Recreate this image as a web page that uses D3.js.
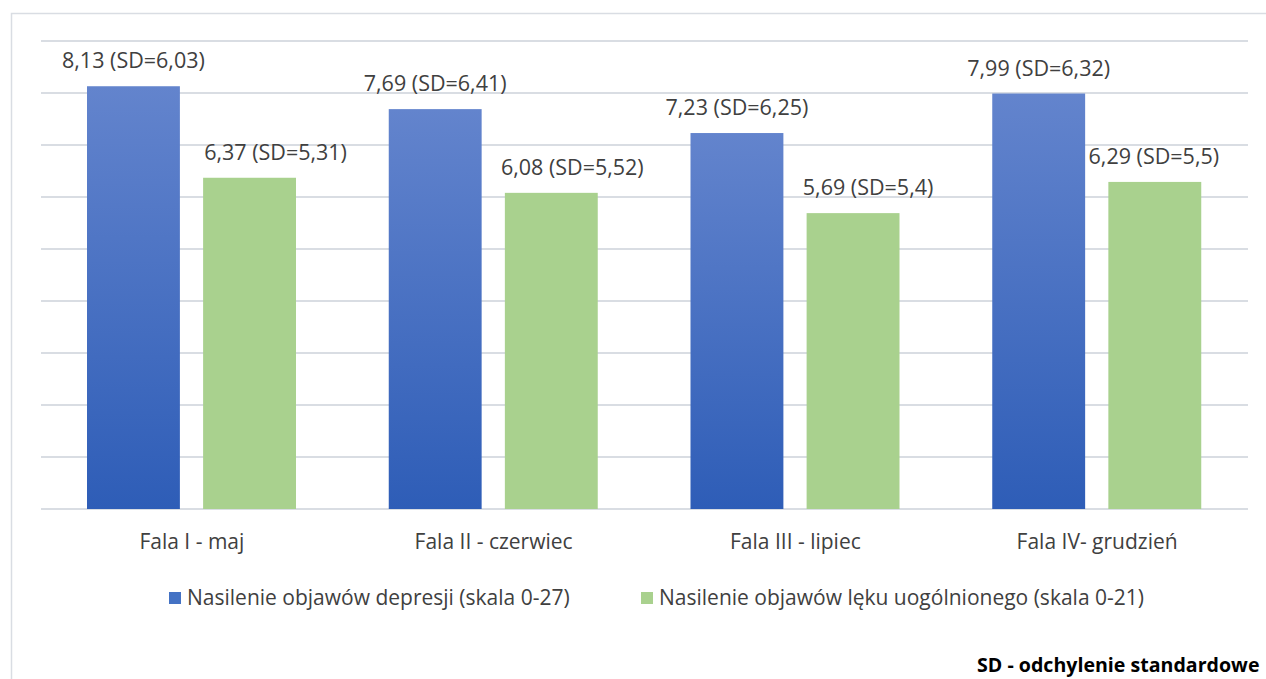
<!DOCTYPE html>
<html>
<head>
<meta charset="utf-8">
<script src="https://cdn.jsdelivr.net/npm/d3@7"></script>
<style>
  html, body { margin: 0; padding: 0; background: #fff; overflow: hidden; }
  svg { display: block; font-family: "Open Sans", Lato, sans-serif; }
</style>
</head>
<body>
<svg id="chart" width="1266" height="679"></svg>
<script>
// Survey waves
const categories = ["Fala I - maj", "Fala II - czerwiec", "Fala III - lipiec", "Fala IV- grudzień"];
// Mean severity of depression symptoms (PHQ-9, 0-27) and standard deviations
const depression = [8.13, 7.69, 7.23, 7.99];
const depressionSD = [6.03, 6.41, 6.25, 6.32];
// Mean severity of generalized anxiety symptoms (GAD-7, 0-21) and standard deviations
const anxiety = [6.37, 6.08, 5.69, 6.29];
const anxietySD = [5.31, 5.52, 5.4, 5.5];
const seriesNames = ["Nasilenie objawów depresji (skala 0-27)", "Nasilenie objawów lęku uogólnionego (skala 0-21)"];
const yTicks = [0, 1, 2, 3, 4, 5, 6, 7, 8, 9];

// layout: horizontal nudges of the value labels (px), per series and wave
const labelNudge = [[0, 0, 0, 0], [26, 21, 15, -1]];

const fmt = v => String(v).replace(".", ",");

const svg = d3.select("#chart");

// outer chart frame
svg.append("rect")
  .attr("x", 11.5).attr("y", 13.5)
  .attr("width", 1300).attr("height", 700)
  .attr("fill", "#fff").attr("stroke", "#d9dde3").attr("stroke-width", 1.5);

const plot = { left: 41, right: 1248, top: 41, bottom: 509 };

const x0 = d3.scaleBand().domain(categories).range([plot.left, plot.right]).paddingInner(0).paddingOuter(0);
const x1 = d3.scaleBand().domain([0, 1]).range([46, 255]).paddingInner(0.2);
const y = d3.scaleLinear().domain([0, 9]).range([plot.bottom, plot.top]);

// gradient for the depression bars
const defs = svg.append("defs");
const grad = defs.append("linearGradient").attr("id", "blueGrad")
  .attr("x1", 0).attr("y1", 0).attr("x2", 0).attr("y2", 1);
grad.append("stop").attr("offset", "0%").attr("stop-color", "#6384cd");
grad.append("stop").attr("offset", "100%").attr("stop-color", "#2e5db7");

// horizontal gridlines
svg.append("g")
  .selectAll("line")
  .data(yTicks)
  .join("line")
  .attr("x1", plot.left).attr("x2", plot.right)
  .attr("y1", d => y(d)).attr("y2", d => y(d))
  .attr("stroke", "#d9dde3").attr("stroke-width", 2);

const colors = ["url(#blueGrad)", "#a9d18e"];
const series = [
  { values: depression, sd: depressionSD },
  { values: anxiety, sd: anxietySD }
];

const groups = svg.append("g")
  .selectAll("g")
  .data(categories)
  .join("g")
  .attr("transform", d => `translate(${x0(d)},0)`);

series.forEach((s, si) => {
  groups.append("rect")
    .attr("x", x1(si))
    .attr("width", x1.bandwidth())
    .attr("y", (d, i) => y(s.values[i]))
    .attr("height", (d, i) => y(0) - y(s.values[i]))
    .attr("fill", colors[si]);

  groups.append("text")
    .attr("x", (d, i) => x1(si) + x1.bandwidth() / 2 + labelNudge[si][i])
    .attr("y", (d, i) => y(s.values[i]) - 18)
    .attr("text-anchor", "middle")
    .attr("font-size", 21.5)
    .attr("fill", "#404040")
    .text((d, i) => `${fmt(s.values[i])} (SD=${fmt(s.sd[i])})`);
});

// category axis labels
groups.append("text")
  .attr("x", x0.bandwidth() / 2)
  .attr("y", 549)
  .attr("text-anchor", "middle")
  .attr("font-size", 21)
  .attr("fill", "#404040")
  .text(d => d);

// legend
const legendItems = [
  { name: seriesNames[0], color: "#4472c4", x: 169 },
  { name: seriesNames[1], color: "#a9d18e", x: 641 }
];
const legend = svg.append("g").selectAll("g").data(legendItems).join("g")
  .attr("transform", d => `translate(${d.x},592)`);
legend.append("rect").attr("width", 12).attr("height", 12).attr("fill", d => d.color);
legend.append("text").attr("x", 18).attr("y", 13)
  .attr("font-size", 21).attr("fill", "#404040").text(d => d.name);

// footnote
svg.append("text")
  .attr("x", 977).attr("y", 672)
  .attr("font-size", 19.6).attr("font-weight", "bold").attr("fill", "#000")
  .text("SD - odchylenie standardowe");
</script>
</body>
</html>
